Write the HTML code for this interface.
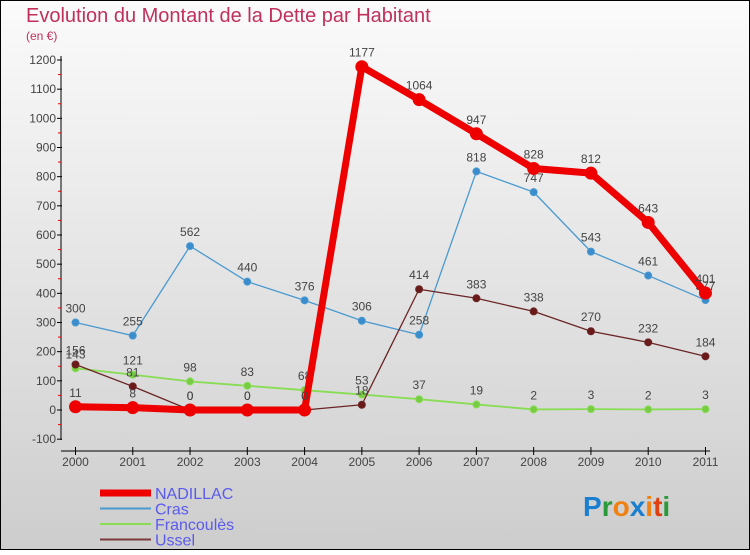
<!DOCTYPE html>
<html><head><meta charset="utf-8"><style>
body{margin:0;width:750px;height:550px;overflow:hidden;font-family:"Liberation Sans",sans-serif}
svg text{font-family:"Liberation Sans",sans-serif}
</style></head><body>
<svg id="c" width="750" height="550" xmlns="http://www.w3.org/2000/svg">
<defs><linearGradient id="bg" x1="0" y1="0" x2="0" y2="1"><stop offset="0" stop-color="#fbfbfb"/><stop offset="1" stop-color="#cdcdcd"/></linearGradient></defs>
<rect x="0.5" y="0.5" width="749" height="549" fill="url(#bg)" stroke="#000"/>
<text x="26" y="22" font-size="20" fill="#c0305a">Evolution du Montant de la Dette par Habitant</text>
<text x="26" y="40" font-size="12" fill="#c0305a">(en €)</text>
<g id="axes"></g><g id="series"></g><g id="legend"></g>
<text x="583" y="516" font-size="28" font-weight="bold"><tspan fill="#1a7fd0">P</tspan><tspan fill="#2a9a3a">r</tspan><tspan fill="#f08010">o</tspan><tspan fill="#1a7fd0">x</tspan><tspan fill="#f08010">i</tspan><tspan fill="#e04010">t</tspan><tspan fill="#2a9a3a">i</tspan></text>
</svg>
<script>
const years=["2000","2001","2002","2003","2004","2005","2006","2007","2008","2009","2010","2011"];
const yTicks=[-100,0,100,200,300,400,500,600,700,800,900,1000,1100,1200];
const nadillac=[11,8,0,0,0,1177,1064,947,828,812,643,401];
const cras=[300,255,562,440,376,306,258,818,747,543,461,377];
const francoules=[143,121,98,83,68,53,37,19,2,3,2,3];
const ussel=[156,81,0,0,0,18,414,383,338,270,232,184];
const NS="http://www.w3.org/2000/svg";
function X(i){return 75.5+i*57.27;}
function Y(v){return 410-v*0.29167;}
function mk(t,a,p){const e=document.createElementNS(NS,t);for(const k in a)e.setAttribute(k,a[k]);p.appendChild(e);return e;}
const ax=document.getElementById('axes');
let l=mk('line',{x1:61,y1:56,x2:61,y2:440,stroke:'#000'},ax);


l=mk('line',{x1:61,y1:451,x2:710,y2:451,stroke:'#000'},ax);


yTicks.forEach((v,i)=>{
 const y=Y(v);
 mk('line',{x1:57,y1:y,x2:62,y2:y,stroke:'#000'},ax);
 if(i<yTicks.length-1) mk('line',{x1:58,y1:Y(v+50),x2:61,y2:Y(v+50),stroke:'#e00'},ax);
 const t=mk('text',{x:56,y:y+4,'text-anchor':'end','font-size':12,fill:'#444'},ax);
 t.textContent=v;
 
 
});
years.forEach((yr,i)=>{
 mk('line',{x1:X(i),y1:447,x2:X(i),y2:455,stroke:'#000'},ax);
 const t=mk('text',{x:X(i),y:466,'text-anchor':'middle','font-size':12,fill:'#444'},ax);
 t.textContent=yr;
 
 
});
const sg=document.getElementById('series');
function draw(vals,color,w,r,name,dot){
 const g=mk('g',{},sg);
 
 
 mk('polyline',{points:vals.map((v,i)=>X(i)+','+Y(v)).join(' '),fill:'none',stroke:color,'stroke-width':w,'stroke-linejoin':'round'},g);
 vals.forEach((v,i)=>{
  const c=mk('circle',{cx:X(i),cy:Y(v),r:r,fill:dot,stroke:color,'stroke-width':1},g);
  
  
  const t=mk('text',{x:X(i),y:Y(v)-10,'text-anchor':'middle','font-size':12,fill:'#444'},g);
  t.textContent=v;
  
  
 });
}
draw(cras,'#4a9ad0',1.3,3.5,'cras','#3a8ccc');
draw(francoules,'#88dd55',1.8,3.5,'francoules','#77cc44');
draw(ussel,'#6b2525',1.3,3.5,'ussel','#6b1a1a');
draw(nadillac,'#ee0000',7,6,'nadillac','#ee0000');
const lg=document.getElementById('legend');
[["NADILLAC","#ee0000",7],["Cras","#4a9ad0",2],["Francoulès","#88dd55",2],["Ussel","#7a3a3a",2]].forEach((d,i)=>{
 const y=493+i*15.5;
 const g=mk('g',{},lg);
 
 
 mk('line',{x1:100,y1:y,x2:151,y2:y,stroke:d[1],'stroke-width':d[2]},g);
 const t=mk('text',{x:155,y:y+6,'font-size':16,fill:'#5a5aee'},g);
 t.textContent=d[0];
});
</script>
</body></html>
